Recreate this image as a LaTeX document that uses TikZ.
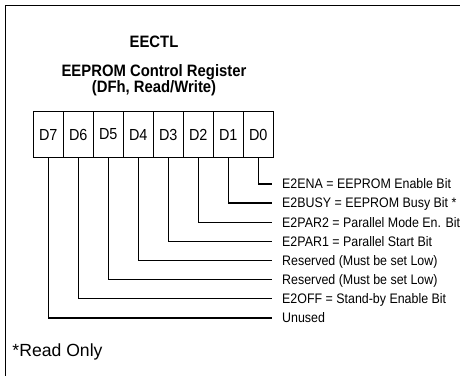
\documentclass[tikz,border=0pt]{standalone}
\usepackage{fontspec}
\setmainfont{Liberation Sans}
\newfontfamily\narrowfont[FakeStretch=0.9]{Liberation Sans}
\begin{document}
\begin{tikzpicture}[x=1pt,y=-1pt,
  bitbox/.style={draw,line width=0.7pt,minimum width=30pt,minimum height=46pt,inner sep=0pt,font=\narrowfont\fontsize{16}{16}\selectfont},
  lbl/.style={anchor=west,inner xsep=10pt,inner ysep=0pt,text height=9.9pt,text depth=0pt,font=\narrowfont\fontsize{13.8}{14}\selectfont},
  ttl/.style={inner sep=0pt,font=\narrowfont\bfseries\fontsize{16.5}{14.5}\selectfont,align=center},
  conn/.style={line width=1.1pt}]
\useasboundingbox (0,0) rectangle (460,376);
\draw[line width=1pt] (460,5) -- (5,5) -- (5,376);
\node[ttl,anchor=base] (title) at (154,47) {EECTL};
\node[ttl,anchor=north] (sub) at (154,64.3) {EEPROM Control Register\\(DFh, Read/Write)};
\foreach \i/\x in {7/48.3,6/78.3,5/108.3,4/138.3,3/168.3,2/198.3,1/228.3,0/258.3}{
  \node[bitbox] (d\i) at (\x,134.5) {D\i};
}
\node[lbl] (l0) at (272,184) {E2ENA = EEPROM Enable Bit};
\node[lbl] (l1) at (272,203) {E2BUSY = EEPROM Busy Bit *};
\node[lbl] (l2) at (272,222.5) {E2PAR2 = Parallel Mode En. Bit};
\node[lbl] (l3) at (272,241.5) {E2PAR1 = Parallel Start Bit};
\node[lbl] (l4) at (272,260.5) {Reserved (Must be set Low)};
\node[lbl] (l5) at (272,279.5) {Reserved (Must be set Low)};
\node[lbl] (l6) at (272,298.5) {E2OFF = Stand-by Enable Bit};
\node[lbl] (l7) at (272,318) {Unused};
\foreach \i in {0,...,7}{
  \draw[conn] (d\i.south) |- (l\i.west);
}
\node[anchor=base west,inner sep=0pt,font=\fontsize{17.6}{17.6}\selectfont] (note) at (12.3,356) {*Read Only};
\end{tikzpicture}
\end{document}
